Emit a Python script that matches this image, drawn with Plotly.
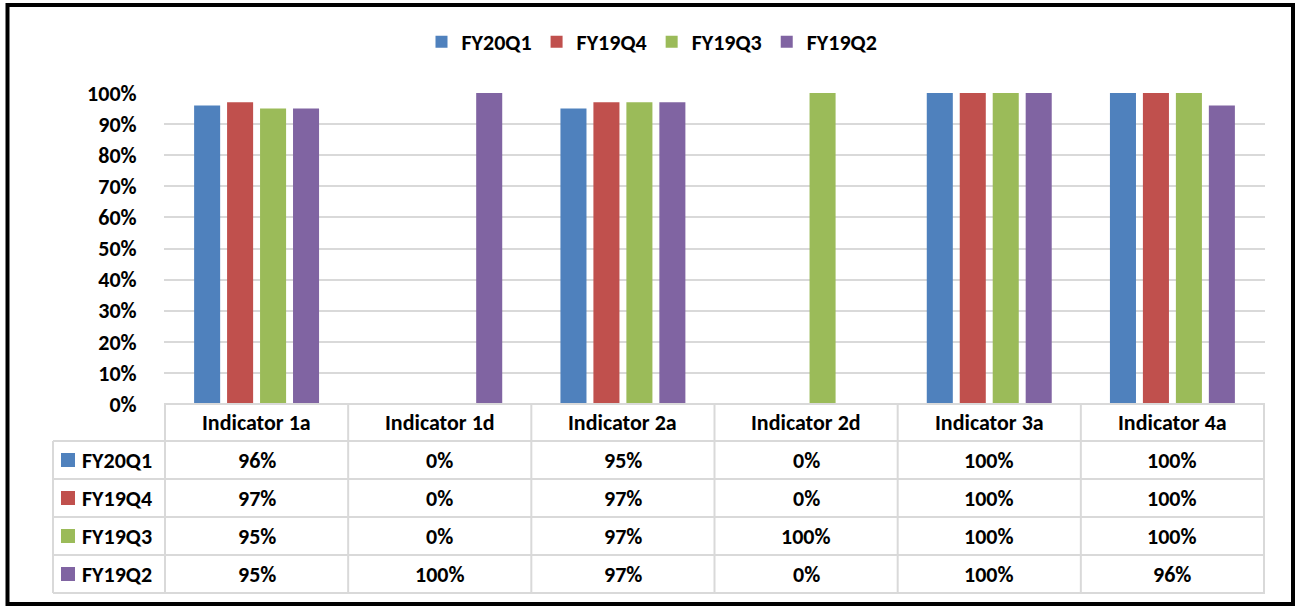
import plotly.graph_objects as go

categories = ["Indicator 1a", "Indicator 1d", "Indicator 2a", "Indicator 2d", "Indicator 3a", "Indicator 4a"]
series_names = ["FY20Q1", "FY19Q4", "FY19Q3", "FY19Q2"]
fy20q1 = [0.96, 0.00, 0.95, 0.00, 1.00, 1.00]
fy19q4 = [0.97, 0.00, 0.97, 0.00, 1.00, 1.00]
fy19q3 = [0.95, 0.00, 0.97, 1.00, 1.00, 1.00]
fy19q2 = [0.95, 1.00, 0.97, 0.00, 1.00, 0.96]
series_values = [fy20q1, fy19q4, fy19q3, fy19q2]
colors = ["#4F81BD", "#C0504D", "#9BBB59", "#8064A2"]
tick_vals = [i / 10 for i in range(11)]
tick_text = [f"{i*10}%" for i in range(11)]

W, H = 1296, 607
PL, PR, PT, PB = 164, 1265, 93, 404
PW, PH = PR - PL, PB - PT
FONT = "Carlito, Calibri, Lato, sans-serif"
FS = 22
GRID = "#D9D9D9"


def px(x):
    return (x - PL) / PW


def py(y):
    return (PB - y) / PH


fig = go.Figure()
for name, vals, col in zip(series_names, series_values, colors):
    fig.add_trace(go.Bar(x=categories, y=vals, name=f"<b>{name}</b>", marker=dict(color=col, line=dict(width=0))))

shapes = []
annotations = []
n = len(categories)
row_lines = [404, 441, 479, 517, 555, 593]
shapes.append(dict(type="line", xref="paper", yref="paper", x0=0, x1=1, y0=py(404), y1=py(404),
                   line=dict(color=GRID, width=2)))
for yl in row_lines[1:]:
    shapes.append(dict(type="line", xref="paper", yref="paper", x0=px(53), x1=1, y0=py(yl), y1=py(yl),
                       line=dict(color=GRID, width=2)))
for i in range(n + 1):
    shapes.append(dict(type="line", xref="x", yref="paper", x0=i - 0.5, x1=i - 0.5, y0=py(404), y1=py(593),
                       line=dict(color=GRID, width=2)))
shapes.append(dict(type="line", xref="paper", yref="paper", x0=px(53), x1=px(53), y0=py(441), y1=py(593),
                   line=dict(color=GRID, width=2)))
for i, c in enumerate(categories):
    annotations.append(dict(xref="x", yref="paper", x=i, y=py(422), text=f"<b>{c}</b>", showarrow=False,
                            font=dict(family=FONT, size=FS, color="black"), xanchor="center", yanchor="middle"))
for r, (name, vals, col) in enumerate(zip(series_names, series_values, colors)):
    yc = (row_lines[r + 1] + row_lines[r + 2]) / 2
    shapes.append(dict(type="rect", xref="paper", yref="paper", x0=px(61), x1=px(75), y0=py(yc - 7), y1=py(yc + 7),
                       fillcolor=col, line=dict(width=0)))
    annotations.append(dict(xref="paper", yref="paper", x=px(80), y=py(yc), text=f"<b>{name}</b>", showarrow=False,
                            font=dict(family=FONT, size=FS, color="black"), xanchor="left", yanchor="middle"))
    for i, v in enumerate(vals):
        annotations.append(dict(xref="x", yref="paper", x=i, y=py(yc), text=f"<b>{round(v*100)}%</b>",
                                showarrow=False, font=dict(family=FONT, size=FS, color="black"),
                                xanchor="center", yanchor="middle"))
shapes.append(dict(type="rect", xref="paper", yref="paper", x0=px(7.5), x1=px(1293), y0=py(5), y1=py(604),
                   line=dict(color="black", width=4), fillcolor="rgba(0,0,0,0)"))

fig.update_layout(
    width=W, height=H,
    margin=dict(l=PL, r=W - PR, t=PT, b=H - PB, pad=0),
    paper_bgcolor="white", plot_bgcolor="white",
    barmode="group", bargap=0.28, bargroupgap=0.21,
    font=dict(family=FONT, size=FS, color="black"),
    xaxis=dict(showticklabels=False, showgrid=False, zeroline=False, showline=False, ticks=""),
    yaxis=dict(range=[0, 1], tickvals=tick_vals, ticktext=[f"<b>{t}</b>" for t in tick_text],
               showgrid=True, gridcolor=GRID, gridwidth=2, zeroline=False, showline=False,
               ticks="outside", ticklen=22, tickcolor="rgba(0,0,0,0)",
               tickfont=dict(family=FONT, size=FS, color="black")),
    legend=dict(orientation="h", x=px(652), xanchor="center", y=py(42), yanchor="middle",
                font=dict(family=FONT, size=FS, color="black"), traceorder="normal"),
    shapes=shapes, annotations=annotations,
)
fig.write_html("out.html", config={"displayModeBar": False},
               post_script="document.body.style.margin='0px';document.body.style.overflow='hidden';")
